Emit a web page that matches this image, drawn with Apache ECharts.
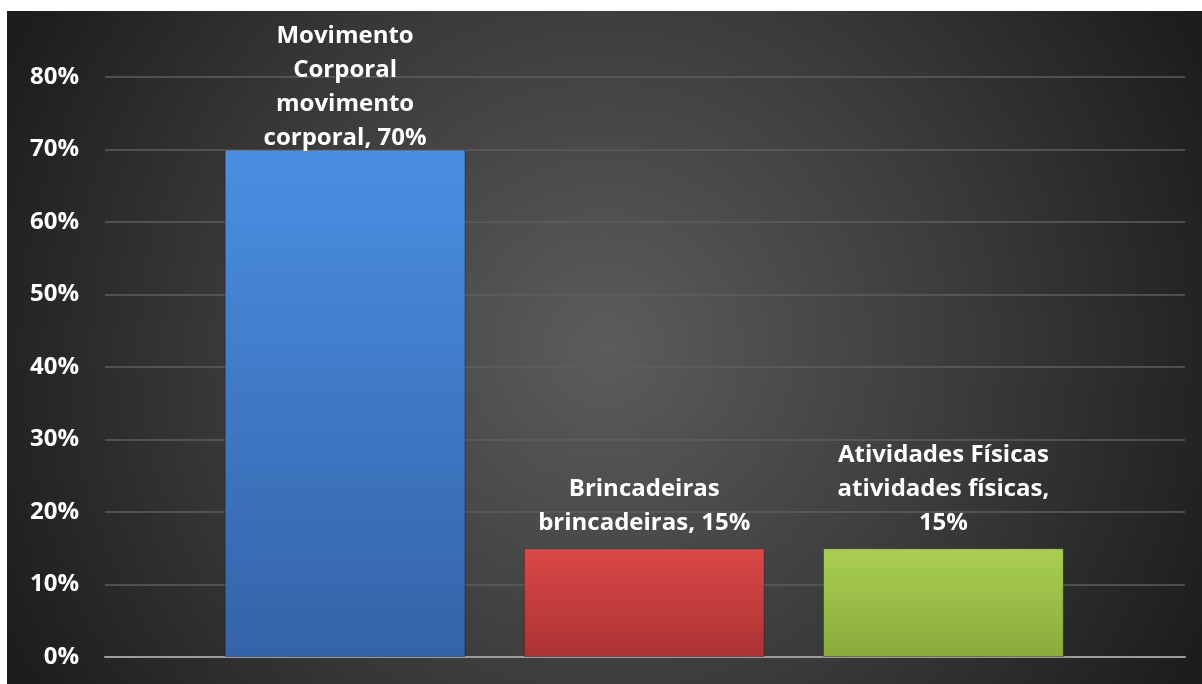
<!DOCTYPE html>
<html>
<head>
<meta charset="utf-8">
<script src="https://cdn.jsdelivr.net/npm/echarts@6/dist/echarts.min.js"></script>
<style>
html,body{margin:0;padding:0;background:#fff;}
#chart{width:1202px;height:684px;}
</style>
</head>
<body>
<div id="chart"></div>
<script>
var categories = ['movimento corporal', 'brincadeiras', 'atividades físicas'];
var seriesNames = ['Movimento Corporal', 'Brincadeiras', 'Atividades Físicas'];
var values = [70, 15, 15];
var yTicks = [0, 10, 20, 30, 40, 50, 60, 70, 80];
// word-wrap points of each data label (as drawn in the original)
var labelLines = [
  ['Movimento', 'Corporal', 'movimento', 'corporal, {v}%'],
  ['Brincadeiras', 'brincadeiras, {v}%'],
  ['Atividades Físicas', 'atividades físicas,', '{v}%']
];
// the first label is pushed down in the original to stay inside the chart area
var labelDistances = [-6, 8, 8];

var barColors = [
  ['#4a8fe2', '#3463a8'],
  ['#dc4848', '#ab3232'],
  ['#a9cf52', '#8aab3c']
];

var FONT = '"Open Sans", Lato, sans-serif';

var chart = echarts.init(document.getElementById('chart'));
var option = {
  backgroundColor: '#ffffff',
  animation: false,
  graphic: [{
    type: 'rect',
    z: -100,
    silent: true,
    shape: {x: 7, y: 11, width: 1195, height: 673},
    style: {
      fill: {
        type: 'radial', x: 0.5, y: 0.5, r: 1.0,
        colorStops: [
          {offset: 0, color: '#5c5c5c'},
          {offset: 0.55, color: '#3a3a3a'},
          {offset: 1, color: '#1c1c1c'}
        ]
      }
    }
  }],
  grid: [
    {left: 105, right: 17, top: 77, bottom: 27},
    {left: 195.5, right: 109, top: 77, bottom: 27}
  ],
  xAxis: [
    {
      gridIndex: 0, type: 'category', data: [''],
      axisLine: {show: true, lineStyle: {color: '#9c9c9c', width: 2}},
      axisTick: {show: false}, axisLabel: {show: false}
    },
    {
      gridIndex: 1, type: 'category', data: categories,
      axisLine: {show: false}, axisTick: {show: false}, axisLabel: {show: false}
    }
  ],
  yAxis: [
    {
      gridIndex: 0, type: 'value',
      min: yTicks[0], max: yTicks[yTicks.length - 1], interval: 10,
      axisLine: {show: false}, axisTick: {show: false},
      axisLabel: {
        formatter: '{value}%', color: '#ffffff', fontWeight: 'bold',
        fontSize: 24, fontFamily: FONT, margin: 26
      },
      splitLine: {lineStyle: {color: '#5e5e5e', width: 1.5}}
    },
    {
      gridIndex: 1, type: 'value',
      min: yTicks[0], max: yTicks[yTicks.length - 1], interval: 10,
      show: false, splitLine: {show: false}
    }
  ],
  series: [{
    type: 'bar',
    xAxisIndex: 1, yAxisIndex: 1,
    barWidth: '80.5%',
    data: values.map(function (v, i) {
      return {
        value: v,
        label: {distance: labelDistances[i]},
        itemStyle: {
          color: {
            type: 'linear', x: 0, y: 0, x2: 0, y2: 1,
            colorStops: [
              {offset: 0, color: barColors[i][0]},
              {offset: 1, color: barColors[i][1]}
            ]
          },
          borderColor: 'rgba(0,0,0,0.3)',
          borderWidth: 1
        }
      };
    }),
    label: {
      show: true,
      position: 'top',
      color: '#ffffff',
      fontWeight: 'bold',
      fontSize: 24,
      fontFamily: FONT,
      lineHeight: 34,
      align: 'center',
      formatter: function (p) {
        return labelLines[p.dataIndex].join('\n').replace('{v}', p.value);
      }
    }
  }]
};
chart.setOption(option);
</script>
</body>
</html>
